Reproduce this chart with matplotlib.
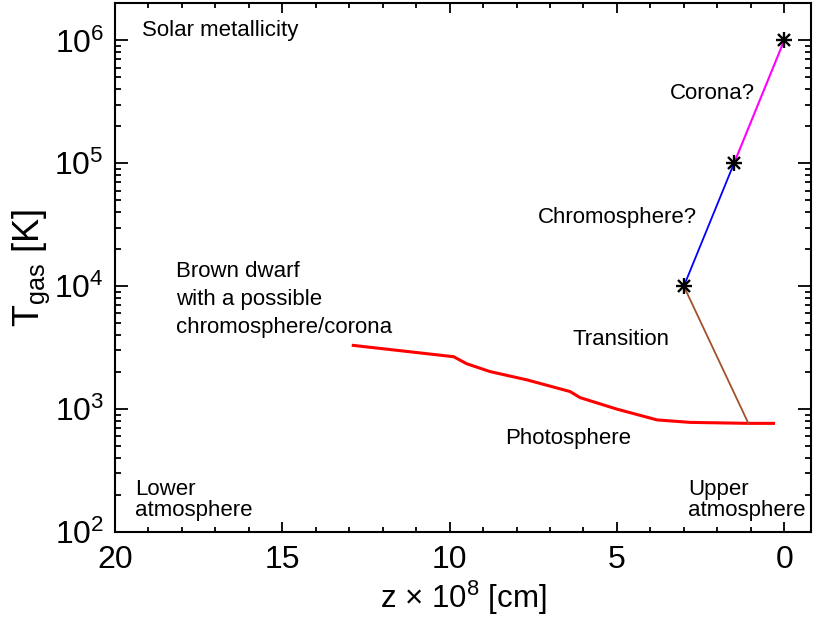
import matplotlib
matplotlib.use("Agg")
from matplotlib import pyplot as plt
from matplotlib.ticker import MultipleLocator, LogLocator, NullFormatter, LogFormatterMathtext

plt.rcParams['font.family'] = ['Liberation Sans', 'DejaVu Sans']
plt.rcParams['mathtext.fontset'] = 'custom'
plt.rcParams['mathtext.rm'] = 'Liberation Sans'
plt.rcParams['mathtext.it'] = 'Liberation Sans:italic'

# photosphere profile
z_phot = [12.88, 9.88, 9.49, 8.79, 7.69, 6.40, 6.10, 5.0, 3.80, 2.81, 1.07, 0.32]
T_phot = [3300, 2670, 2340, 2020, 1730, 1390, 1240, 1000, 817, 780, 766, 766]

# upper layers
z_trans = [3.0, 1.07]
T_trans = [1e4, 766]
z_chrom = [3.0, 1.5]
T_chrom = [1e4, 1e5]
z_cor = [1.5, 0.0]
T_cor = [1e5, 1e6]
z_star = [3.0, 1.5, 0.0]
T_star = [1e4, 1e5, 1e6]

fig = plt.figure(figsize=(8.13, 6.19), dpi=100)
ax = fig.add_axes([0.1415, 0.1405, 0.856, 0.854])

ax.plot(z_phot, T_phot, color='#ff0000', lw=2.2)
ax.plot(z_trans, T_trans, color='#a0522d', lw=1.3)
ax.plot(z_chrom, T_chrom, color='#0000ff', lw=1.3)
ax.plot(z_cor, T_cor, color='#ff00ff', lw=1.5)
ax.plot(z_star, T_star, ls='none', marker='+', ms=12, mew=1.7, color='black')
ax.plot(z_star, T_star, ls='none', marker='x', ms=9, mew=1.7, color='black')

ax.set_yscale('log')
ax.set_xlim(20, -0.8)
ax.set_ylim(1e2, 2e6)

ax.xaxis.set_major_locator(MultipleLocator(5))
ax.xaxis.set_minor_locator(MultipleLocator(1))
ax.yaxis.set_major_locator(LogLocator(base=10))
ax.yaxis.set_major_formatter(LogFormatterMathtext())
ax.yaxis.set_minor_locator(LogLocator(base=10, subs=range(2, 10)))
ax.yaxis.set_minor_formatter(NullFormatter())

ax.tick_params(which='both', direction='in', top=True, right=True, width=1.3, labelsize=23)
ax.tick_params(axis='x', which='major', length=7.5, pad=9)
ax.tick_params(axis='x', which='minor', length=3.8)
ax.tick_params(axis='y', which='major', length=9.5, pad=8)
ax.tick_params(axis='y', which='minor', length=4.5)
for s in ax.spines.values():
    s.set_linewidth(1.5)

ax.set_xlabel('z \u00d7 10$^8$ [cm]', fontsize=22.5, labelpad=3)
ax.set_ylabel('T$_{\\rm gas}$ [K]', fontsize=26, labelpad=2)

fs = 16
ax.text(19.19, 10**6.08, 'Solar metallicity', fontsize=fs, va='center')
ax.text(3.41, 10**5.567, 'Corona?', fontsize=fs, va='center')
ax.text(7.35, 10**4.563, 'Chromosphere?', fontsize=fs, va='center')
ax.text(18.17, 10**(2 + (530 - 270) / 122.5), 'Brown dwarf', fontsize=fs, va='center')
ax.text(18.17, 10**(2 + (530 - 298) / 122.5), 'with a possible', fontsize=fs, va='center')
ax.text(18.17, 10**(2 + (530 - 326) / 122.5), 'chromosphere/corona', fontsize=fs, va='center')
ax.text(6.34, 10**3.567, 'Transition', fontsize=fs, va='center')
ax.text(8.34, 10**2.759, 'Photosphere', fontsize=fs, va='center')
ax.text(19.4, 10**(2 + (530 - 488) / 122.5), 'Lower', fontsize=fs, va='center')
ax.text(19.4, 10**(2 + (530 - 509) / 122.5), 'atmosphere', fontsize=fs, va='center')
ax.text(2.87, 10**(2 + (530 - 488) / 122.5), 'Upper', fontsize=fs, va='center')
ax.text(2.87, 10**(2 + (530 - 509) / 122.5), 'atmosphere', fontsize=fs, va='center')

fig.savefig('out.png', dpi=100)
